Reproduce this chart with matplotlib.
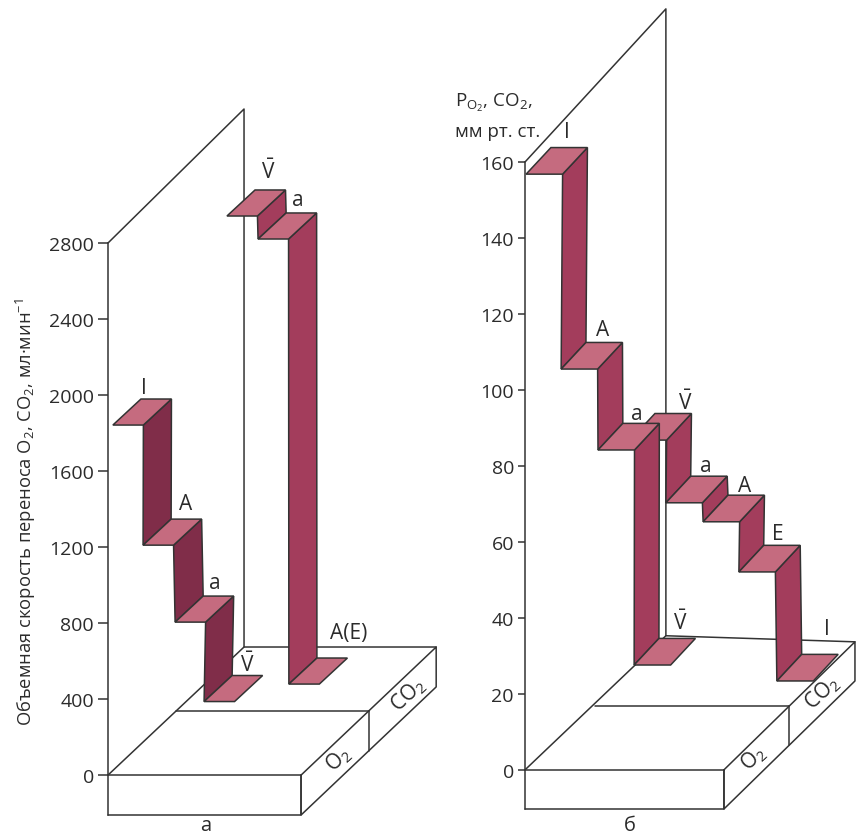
import matplotlib
matplotlib.use("Agg")
import matplotlib.pyplot as plt
from matplotlib.patches import Polygon

plt.rcParams['font.family'] = ['Open Sans', 'DejaVu Sans']
plt.rcParams['mathtext.fontset'] = 'custom'
plt.rcParams['mathtext.rm'] = 'Open Sans'
plt.rcParams['mathtext.default'] = 'regular'

W, H = 856, 837

# Данные: панель а (мл/мин)
a_ticks = [0, 400, 800, 1200, 1600, 2000, 2400, 2800]
a_o2_pos = [0.16, 1.15, 2.20, 3.15]
a_o2_val = [1842, 1210, 805, 387]
a_co2_pos = [3.90, 4.92, 5.93]
a_co2_val = [2942, 2821, 479]

# Данные: панель б (мм рт. ст.)
b_ticks = [0, 20, 40, 60, 80, 100, 120, 140, 160]
b_o2_pos = [0.03, 0.99, 2.00, 2.99]
b_o2_val = [156.8, 105.5, 84.2, 27.6]
b_co2_pos = [2.88, 3.86, 4.88, 5.86, 6.90]
b_co2_val = [86.8, 70.3, 65.3, 52.1, 23.4]

# Цвета
TREAD = '#c56b7f'
DARK = '#802d49'
MID = '#a33d5c'
LINE = '#333333'
TEXT = '#2b2b2b'
LW = 1.1

fig = plt.figure(figsize=(W / 100, H / 100), dpi=100, facecolor='white')


def make_axes(left, top, bottom, width, unit, ymin, ymax, ticks, ticklen):
    ax = fig.add_axes([left / W, 1 - bottom / H, width / W, (bottom - top) / H])
    ax.patch.set_alpha(0)
    ax.set_xlim(0, width / unit)
    ax.set_ylim(ymin, ymax)
    for s in ['top', 'right', 'bottom']:
        ax.spines[s].set_visible(False)
    ax.spines['left'].set_color(LINE)
    ax.spines['left'].set_linewidth(LW)
    ax.set_xticks([])
    ax.set_yticks(ticks)
    ax.tick_params(axis='y', length=ticklen, width=LW, color=LINE, labelcolor=TEXT,
                   labelsize=14, pad=3)
    return ax


def seg(ax, xs, ys, z=1):
    ax.plot(xs, ys, color=LINE, lw=LW, clip_on=False, zorder=z, solid_capstyle='round')


def frame(ax, ymin, block_w, wall_dx, wall_dv, floor_dv, right_dx, right_dv):
    # задняя стенка
    seg(ax, [0, wall_dx, wall_dx], [ax.get_ylim()[1], ax.get_ylim()[1] + wall_dv, floor_dv])
    # дно
    seg(ax, [0, wall_dx, block_w + right_dx], [0, floor_dv, right_dv])
    seg(ax, [wall_dx / 2, block_w + right_dx / 2], [right_dv / 2, right_dv / 2])
    # блок
    seg(ax, [0, block_w, block_w, 0], [0, 0, ymin, ymin])
    seg(ax, [block_w, block_w + right_dx, block_w + right_dx, block_w, block_w],
        [0, right_dv, right_dv + ymin, ymin, 0])
    seg(ax, [block_w + right_dx / 2, block_w + right_dx / 2],
        [right_dv / 2, right_dv / 2 + ymin])


def stairs(ax, pos, val, tread_w, dx, dv, riser, z):
    # ступени и вертикальные стенки между ними
    for i in range(len(pos)):
        x, v = pos[i], val[i]
        if i + 1 < len(pos):
            nx, nv = pos[i + 1], val[i + 1]
            ax.add_patch(Polygon([(x + tread_w, v), (x + tread_w + dx, v + dv),
                                  (nx + dx, nv + dv), (nx, nv)],
                                 fc=riser, ec=LINE, lw=LW, clip_on=False, zorder=z))
        ax.add_patch(Polygon([(x, v), (x + tread_w, v), (x + tread_w + dx, v + dv), (x + dx, v + dv)],
                             fc=TREAD, ec=LINE, lw=LW, clip_on=False, zorder=z + 1))


def label(x, y, s, size=15, rot=0, ha='center'):
    fig.text(x / W, 1 - y / H, s, fontsize=size, color=TEXT, ha=ha, va='center',
             rotation=rot, rotation_mode='anchor')


# Панель а
ax_a = make_axes(108, 244, 816, 335, 30.5, -210, 2800, a_ticks, 7)
frame(ax_a, -210, 6.33, 4.46, 705, 674, 4.43, 674)
stairs(ax_a, a_co2_pos, a_co2_val, 1.0, 0.92, 137, MID, 3)
stairs(ax_a, a_o2_pos, a_o2_val, 1.0, 0.92, 137, DARK, 5)

# Панель б
ax_b = make_axes(525, 163, 810, 335, 36.5, -10.3, 160, b_ticks, 5)
frame(ax_b, -10.3, 5.45, 3.86, 40.3, 35.3, 3.59, 33.7)
stairs(ax_b, b_co2_pos, b_co2_val, 1.0, 0.68, 7, MID, 3)
stairs(ax_b, b_o2_pos, b_o2_val, 1.0, 0.68, 7, MID, 5)

vbar = r'$\bar{V}$'

# Подписи панели а
label(26, 512, 'Объемная скорость переноса O$_{2}$, CO$_{2}$, мл·мин$^{\u22121}$', size=13.2, rot=90)
label(144, 389, 'I')
label(186, 505, 'A')
label(215, 584, 'a')
label(247, 665, vbar)
label(268, 172, vbar)
label(298, 201, 'a')
label(349, 633, 'A(E)')
label(338, 759, 'O$_{2}$', size=15, rot=43)
label(408, 695, 'CO$_{2}$', size=15, rot=43)
label(206, 826, 'а', size=14.5)

# Подписи панели б
label(455, 103, 'P$_{O_{2}}$, CO$_{2}$,', size=13.5, ha='left')
label(455, 132, 'мм рт. ст.', size=13.5, ha='left')
label(567, 133, 'I')
label(603, 331, 'A')
label(637, 415, 'a')
label(685, 403, vbar)
label(706, 467, 'a')
label(745, 487, 'A')
label(778, 535, 'E')
label(827, 630, 'I')
label(680, 623, vbar)
label(753, 758, 'O$_{2}$', size=15, rot=43)
label(822, 693, 'CO$_{2}$', size=15, rot=43)
label(630, 826, 'б', size=14.5)

fig.savefig('out.png', dpi=100)
